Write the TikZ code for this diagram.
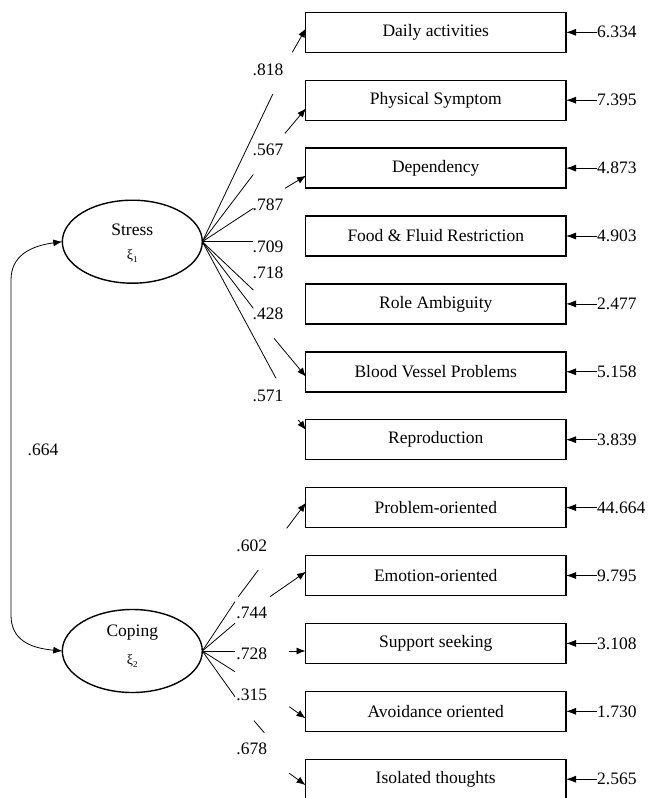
\documentclass[tikz,border=0pt]{standalone}
\usepackage{fontspec}
\setmainfont{Liberation Serif}
\usetikzlibrary{shapes.geometric,arrows.meta,calc}
\newcommand{\xisub}[1]{ξ\raisebox{-3pt}{\fontsize{9}{10}\selectfont #1}}
\begin{document}
\begin{tikzpicture}[x=1pt,y=-1pt,
  every node/.style={font=\fontsize{17.5}{20}\selectfont},
  obsbox/.style={draw,line width=1.4pt,minimum width=260.5pt,minimum height=40pt,inner sep=0pt,outer sep=0pt},
  latent/.style={draw,ellipse,line width=1.4pt,minimum width=140pt,minimum height=83pt,inner sep=0pt,outer sep=0pt},
  errtext/.style={anchor=west,inner sep=0pt},
  lbl/.style={inner sep=0pt},
  ln/.style={line width=0.8pt},
  arr/.style={line width=0.8pt,-{Latex[length=9pt,width=7pt]}},
  xi/.style={font=\fontsize{14}{16}\selectfont}
]
\useasboundingbox (0,0) rectangle (651,798);

% observed variables
\node[obsbox] (b1)  at (435.75,32.3)  {Daily activities};
\node[obsbox] (b2)  at (435.75,100.2) {Physical Symptom};
\node[obsbox] (b3)  at (435.75,168.1) {Dependency};
\node[obsbox] (b4)  at (435.75,236.0) {Food \& Fluid Restriction};
\node[obsbox] (b5)  at (435.75,303.9) {Role Ambiguity};
\node[obsbox] (b6)  at (435.75,371.8) {Blood Vessel Problems};
\node[obsbox] (b7)  at (435.75,439.7) {Reproduction};
\node[obsbox] (b8)  at (435.75,507.6) {Problem-oriented};
\node[obsbox] (b9)  at (435.75,575.5) {Emotion-oriented};
\node[obsbox] (b10) at (435.75,643.4) {Support seeking};
\node[obsbox] (b11) at (435.75,711.3) {Avoidance oriented};
\node[obsbox] (b12) at (435.75,779.2) {Isolated thoughts};

% error terms
\foreach \i/\v in {1/6.334,2/7.395,3/4.873,4/4.903,5/2.477,6/5.158,7/3.839,8/44.664,9/9.795,10/3.108,11/1.730,12/2.565}{
  \node[errtext] (e\i) at ($(b\i.east)+(31,0)$) {\v};
  \draw[line width=0.8pt,-{Latex[length=10pt,width=7pt]}] (e\i.west) -- (b\i.east);
}

% latent variables
\node[latent] (stress) at (132.3,241.7) {};
\node (stresst) at (132.3,230) {Stress};
\node[xi] (xi1) at (132.3,256) {\xisub{1}};
\node[latent] (coping) at (132.3,651) {};
\node (copingt) at (132.3,633) {Coping};
\node[xi] (xi2) at (132.3,661) {\xisub{2}};

% covariance
\coordinate (cv1) at (11,280);
\coordinate (cv2) at (11,615);
\draw[line width=0.8pt,{Latex[length=9pt,width=7pt]}-{Latex[length=9pt,width=7pt]}]
  (stress.west) .. controls (30,246) and (11,256) .. (cv1) -- (cv2) .. controls (11,640) and (30,648) .. (coping.west);
\node[lbl] (r) at (43,450) {.664};

% stress loadings: break points and tips
\coordinate (a1) at (272.7,94.3);  \coordinate (s1) at (292.3,52.3);  \coordinate (t1) at (306,28.3);
\coordinate (a2) at (253.3,174.5); \coordinate (s2) at (285,133.3);   \coordinate (t2) at (306,108.3);
\coordinate (a3) at (253.3,208.3); \coordinate (s3) at (285,188.3);   \coordinate (t3) at (306,175.7);
\coordinate (a4) at (253.3,241.7);
\coordinate (a5) at (253.3,290);
\coordinate (a6) at (253.3,308.3); \coordinate (s6) at (274,338.3);   \coordinate (t6) at (306,376.7);
\coordinate (a7) at (276,378.3);   \coordinate (s7) at (298.3,420);   \coordinate (t7) at (306,430);
\foreach \i in {1,...,7}{ \draw[ln] (stress.east) -- (a\i); }
\foreach \i in {1,2,3,6,7}{ \draw[arr] (s\i) -- (t\i); }
\node[lbl] (l1) at (268,70)    {.818};
\node[lbl] (l2) at (268,150)   {.567};
\node[lbl] (l3) at (268,205)   {.787};
\node[lbl] (l4) at (268,246.7) {.709};
\node[lbl] (l5) at (268,273.3) {.718};
\node[lbl] (l6) at (268,313.3) {.428};
\node[lbl] (l7) at (268,396)   {.571};

% coping loadings
\coordinate (ca1) at (235,601.7);  \coordinate (cg1) at (238.3,596.7); \coordinate (cd1) at (258.3,570);
\coordinate (cs1) at (286.7,528.3); \coordinate (ct1) at (306,502.7);
\coordinate (ca2) at (235,623.3);  \coordinate (cs2) at (270,596.7);  \coordinate (ct2) at (306,571.7);
\coordinate (ca3) at (235,651);    \coordinate (cs3) at (289.3,651);  \coordinate (ct3) at (305.5,651);
\coordinate (ca4) at (235,671.7);  \coordinate (cs4) at (289.3,706.7); \coordinate (ct4) at (305.5,718.3);
\coordinate (ca5) at (235,696.7);  \coordinate (cm5) at (254,720.7);  \coordinate (cn5) at (264.3,732.7);
\coordinate (cs5) at (289.3,773.3); \coordinate (ct5) at (305.5,785);
\foreach \i in {1,...,5}{ \draw[ln] (coping.east) -- (ca\i); \draw[arr] (cs\i) -- (ct\i); }
\draw[ln] (cg1) -- (cd1);
\draw[ln] (cm5) -- (cn5);
\node[lbl] (m1) at (251.7,546)   {.602};
\node[lbl] (m2) at (251.7,613.3) {.744};
\node[lbl] (m3) at (251.7,653.3) {.728};
\node[lbl] (m4) at (251.7,695)   {.315};
\node[lbl] (m5) at (251.7,749)   {.678};
\end{tikzpicture}
\end{document}
